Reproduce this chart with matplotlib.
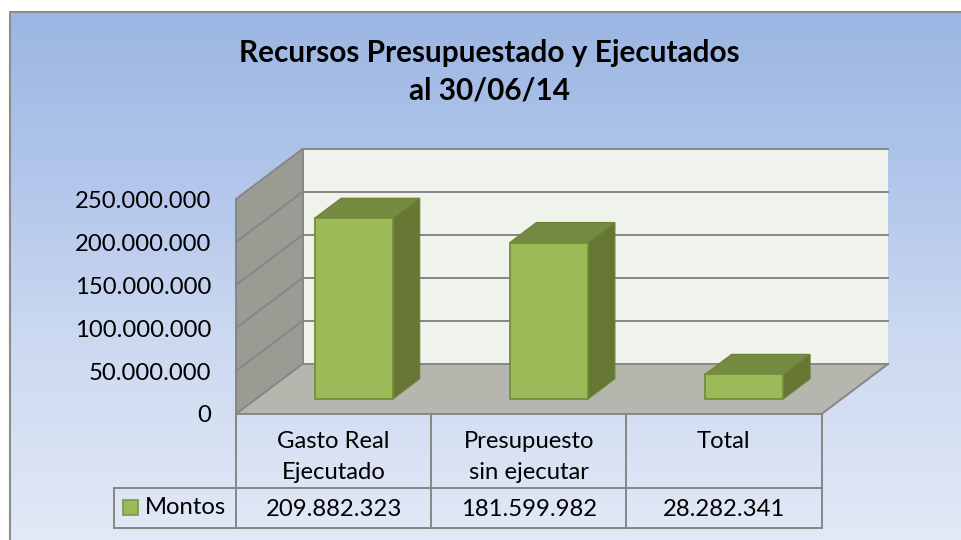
"""Recursos presupuestado y ejecutados: Excel style 3D column chart with data table."""

import matplotlib

matplotlib.use("Agg")
import matplotlib.pyplot as plt
import numpy as np
from matplotlib.colors import LinearSegmentedColormap
from matplotlib.patches import Polygon, Rectangle
from matplotlib.transforms import blended_transform_factory

categories = ["Gasto Real\nEjecutado", "Presupuesto\nsin ejecutar", "Total"]
montos = [209882323, 181599982, 28282341]
y_ticks = [0, 50000000, 100000000, 150000000, 200000000, 250000000]
series_name = "Montos"
title_text = "Recursos Presupuestado y Ejecutados\nal 30/06/14"

FONT = "Lato"
FS = 17.2
W, H = 961, 540
GRID = "#868686"
LEFT, RIGHT, BASE, TOP = 236, 821.5, 414, 199  # front plane of the plot, pixels
DX, DY = 66.5, 50  # depth offset, pixels
Y_MAX = y_ticks[-1]


def to_data(x, v, d):
    """Shift a category/value point back by depth d (0 front, 1 back)."""
    sx = 3 / (RIGHT - LEFT)
    sy = Y_MAX / (BASE - TOP)
    return (x + d * DX * sx, v + d * DY * sy)


def poly(ax, corners, color, edge=None, lw=0, z=1):
    """Add a filled face from (x, value, depth) corners."""
    pts = [to_data(*c) for c in corners]
    ax.add_patch(
        Polygon(pts, closed=True, facecolor=color, edgecolor=edge or color,
                linewidth=lw, zorder=z, clip_on=False, joinstyle="miter")
    )


def line3d(ax, a, b, color=GRID, lw=1.4, z=2):
    """Draw a line between two (x, value, depth) points."""
    p, q = to_data(*a), to_data(*b)
    ax.plot([p[0], q[0]], [p[1], q[1]], color=color, lw=lw, zorder=z,
            clip_on=False, solid_capstyle="projecting")


def draw_walls(ax):
    """Back wall, side wall, floor and their gridlines."""
    poly(ax, [(0, 0, 1), (3, 0, 1), (3, Y_MAX, 1), (0, Y_MAX, 1)], "#f0f3ec")
    poly(ax, [(0, 0, 0), (0, 0, 1), (0, Y_MAX, 1), (0, Y_MAX, 0)], "#9a9c93")
    poly(ax, [(0, 0, 0), (3, 0, 0), (3, 0, 1), (0, 0, 1)], "#b5b7af")
    for t in y_ticks:
        line3d(ax, (0, t, 1), (3, t, 1))
        line3d(ax, (0, t, 0), (0, t, 1))
    line3d(ax, (0, 0, 0), (0, Y_MAX, 0))
    line3d(ax, (0, 0, 1), (0, Y_MAX, 1))
    line3d(ax, (0, 0, 0), (3, 0, 0))
    line3d(ax, (3, 0, 0), (3, 0, 1))


def draw_bars(ax):
    """Each column: front, side and top faces."""
    edge = "#728f3d"
    bar_w = 0.402
    d0, d1 = 0.305, 0.705
    for i, v in enumerate(montos):
        x0, x1 = i + 0.5 - bar_w / 2, i + 0.5 + bar_w / 2
        poly(ax, [(x1, 0, d0), (x1, 0, d1), (x1, v, d1), (x1, v, d0)],
             "#667733", "#6c8337", 0.9, 4)
        poly(ax, [(x0, v, d0), (x1, v, d0), (x1, v, d1), (x0, v, d1)],
             "#758b42", "#6c8337", 0.9, 4)
        poly(ax, [(x0, 0, d0), (x1, 0, d0), (x1, v, d0), (x0, v, d0)],
             "#9bbb59", edge, 1.3, 5)


def draw_table(page, ax):
    """Data table under the plot, with the category and value rows."""
    row1, row2, row3 = 414, 487.5, 528
    key_left = 113.5
    for x in [LEFT, LEFT + (RIGHT - LEFT) / 3, LEFT + 2 * (RIGHT - LEFT) / 3, RIGHT]:
        page.plot([x, x], [row1, row3], color=GRID, lw=1.4, zorder=3)
    page.plot([key_left, key_left], [row2, row3], color=GRID, lw=1.4, zorder=3)
    page.plot([key_left, RIGHT], [row2, row2], color=GRID, lw=1.4, zorder=3)
    page.plot([key_left, RIGHT], [row3, row3], color=GRID, lw=1.4, zorder=3)

    trans = blended_transform_factory(ax.transData, page.transData)
    for i, (cat, v) in enumerate(zip(categories, montos)):
        page.text(i + 0.5, 431, cat, transform=trans, ha="center", va="top",
                  fontsize=FS, family=FONT, color="black", linespacing=1.6)
        page.text(i + 0.5, 509, format(v, ",").replace(",", "."), transform=trans,
                  ha="center", va="center", fontsize=FS, family=FONT, color="black")

    page.add_patch(Rectangle((122.5, 499.5), 15.5, 15.5, facecolor="#9bbb59",
                             edgecolor="#7b9a3e", lw=1.2, zorder=4))
    page.text(144.5, 508, series_name, ha="left", va="center", fontsize=FS,
              family=FONT, color="black")


fig = plt.figure(figsize=(W / 100, H / 100), dpi=100, facecolor="white")

# page axes in pixels: background panel, title and table
page = fig.add_axes([0, 0, 1, 1])
page.axis("off")

grad = LinearSegmentedColormap.from_list(
    "bg", [(0, "#9bb6e3"), (0.3, "#b1c5ea"), (0.6, "#cad8f0"), (1, "#e3e9f6")]
)
page.imshow(np.linspace(0, 1, 256).reshape(-1, 1), cmap=grad, aspect="auto",
            extent=(9.5, W + 5, H + 5, 11.5), zorder=0)
page.set_xlim(0, W)
page.set_ylim(H, 0)
page.plot([9.5, 9.5, W + 5], [H + 5, 11.5, 11.5], color="#8c8c8c", lw=1.5, zorder=1)

page.text(489.5, 71.5, title_text, ha="center", va="center", fontsize=21.4,
          fontweight="bold", family=FONT, color="black", linespacing=1.4)

# plot axes sit on the front plane, so values go through its own scale
ax = fig.add_axes([LEFT / W, 1 - BASE / H, (RIGHT - LEFT) / W, (BASE - TOP) / H])
ax.set_xlim(0, 3)
ax.set_ylim(0, Y_MAX)
ax.patch.set_alpha(0)
for s in ax.spines.values():
    s.set_visible(False)
ax.set_xticks([])
ax.set_yticks(y_ticks)
ax.set_yticklabels([format(t, ",").replace(",", ".") for t in y_ticks],
                   fontsize=FS, family=FONT, color="black")
ax.tick_params(axis="y", length=0, pad=18)

draw_walls(ax)
draw_bars(ax)
draw_table(page, ax)

fig.savefig("out.png", dpi=100)
